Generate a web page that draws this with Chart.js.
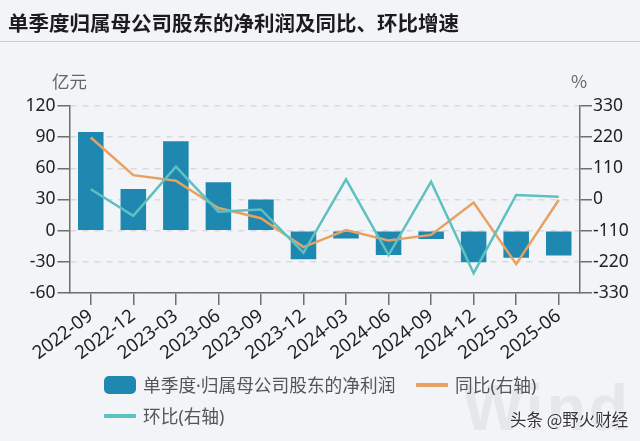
<!DOCTYPE html>
<html>
<head>
<meta charset="utf-8">
<script src="https://cdn.jsdelivr.net/npm/chart.js@4/dist/chart.umd.min.js"></script>
<style>
  html, body { margin: 0; padding: 0; background: #f2f4f8; }
  #wrap { position: relative; width: 640px; height: 441px; overflow: hidden; font-family: "Noto Sans CJK SC", sans-serif; }
  #title { position: absolute; left: 8px; top: 7px; font-size: 20.5px; font-weight: 700; color: #1c1c1c; line-height: 30px; white-space: nowrap; }
  #rule { position: absolute; left: 0; right: 0; top: 41px; height: 1px; background: #c9ccd2; }
  canvas { position: absolute; left: 0; top: 0; }
  .unit { position: absolute; top: 68px; font-size: 17.5px; line-height: 26px; color: #666; }
  .leg { position: absolute; font-family: "Noto Sans", "Noto Sans CJK SC", sans-serif; font-size: 17.7px; line-height: 24px; color: #555; white-space: nowrap; }
  .swatch { position: absolute; width: 32px; }
  #wind { position: absolute; left: 463px; top: 376px; font: 700 64px/64px "Liberation Sans", sans-serif; color: #e5e7eb; letter-spacing: 3px; }
  #mark { position: absolute; left: 510px; top: 407px; font-size: 16.5px; line-height: 24px; color: #333; white-space: nowrap; text-shadow: 0 0 2px #fff, 0 0 2px #fff; }
</style>
</head>
<body>
<div id="wrap">
  <canvas id="c" width="640" height="441"></canvas>
  <div id="title">单季度归属母公司股东的净利润及同比、环比增速</div>
  <div id="rule"></div>
  <div class="unit" style="left:52px">亿元</div>
  <div class="unit" style="left:571px">%</div>
  <div id="wind">Wind</div>
  <div id="legend"></div>
  <div id="mark">头条 @野火财经</div>
</div>
<script>
const categories = ["2022-09", "2022-12", "2023-03", "2023-06", "2023-09", "2023-12", "2024-03", "2024-06", "2024-09", "2024-12", "2025-03", "2025-06"];
const netProfit = [95, 40, 86, 46.5, 30, -27.5, -7.5, -23.5, -8, -30.5, -26, -24];
const yoy = [219, 86, 66, -30, -66, -168, -108, -145, -125, -11, -228, -2];
const qoq = [36, -58, 116, -43, -35, -188, 71, -196, 63, -260, 16, 10];
const leftTicks = [120, 90, 60, 30, 0, -30, -60];
const rightTicks = [330, 220, 110, 0, -110, -220, -330];

const BAR = "#1e88b0", ORANGE = "#e8a160", TEAL = "#5fc0c0";
const AXIS = "#6e6e6e", GRID = "#d8dade";
const tickFont = { family: "'Noto Sans', sans-serif", size: 17.5 };

Chart.defaults.animation = false;

new Chart(document.getElementById("c"), {
  data: {
    labels: categories,
    datasets: [
      { type: "line", label: "环比(右轴)", data: qoq, yAxisID: "yR", borderColor: TEAL, borderWidth: 2.5, pointRadius: 0, tension: 0, order: 1 },
      { type: "line", label: "同比(右轴)", data: yoy, yAxisID: "yR", borderColor: ORANGE, borderWidth: 2.5, pointRadius: 0, tension: 0, order: 2 },
      { type: "bar", label: "单季度·归属母公司股东的净利润", data: netProfit, yAxisID: "yL", backgroundColor: BAR, barPercentage: 0.6, categoryPercentage: 1, order: 3 }
    ]
  },
  options: {
    responsive: false,
    maintainAspectRatio: false,
    layout: { padding: { top: 106, left: 0, right: 0, bottom: 0 } },
    plugins: { legend: { display: false }, tooltip: { enabled: false }, title: { display: false } },
    scales: {
      x: {
        offset: true,
        afterFit: s => { s.height = 148; },
        border: { color: AXIS, width: 1.5 },
        grid: { drawOnChartArea: false, offset: false, color: AXIS, tickLength: 12, lineWidth: 1.5 },
        ticks: { color: "#222", font: { family: tickFont.family, size: 18.5 }, maxRotation: 37, minRotation: 37, autoSkip: false, padding: 0 }
      },
      yL: {
        position: "left",
        min: -60, max: 120,
        afterFit: s => { s.width = 69.5; },
        afterBuildTicks: s => { s.ticks = leftTicks.map(v => ({ value: v })); },
        border: { color: AXIS, width: 1.5, dash: [6, 6] },
        grid: { color: GRID, lineWidth: 1.5, tickLength: 12, tickColor: AXIS, tickBorderDash: [] },
        ticks: { color: "#222", font: tickFont, padding: 2 }
      },
      yR: {
        position: "right",
        min: -330, max: 330,
        afterFit: s => { s.width = 60; },
        afterBuildTicks: s => { s.ticks = rightTicks.map(v => ({ value: v })); },
        border: { color: AXIS, width: 1.5 },
        grid: { drawOnChartArea: false, color: AXIS, lineWidth: 1.5, tickLength: 12 },
        ticks: { color: "#222", font: tickFont, padding: 1 }
      }
    }
  }
});

// legend sits in two rows under the rotated labels
const legendItems = [
  { text: "单季度·归属母公司股东的净利润", color: BAR, x: 104, y: 385, box: true },
  { text: "同比(右轴)", color: ORANGE, x: 416, y: 385 },
  { text: "环比(右轴)", color: TEAL, x: 104, y: 416 }
];
document.getElementById("legend").innerHTML = legendItems.map(it => {
  const h = it.box ? 18 : 4;
  const r = it.box ? 5 : 1;
  return `<div class="swatch" style="left:${it.x}px;top:${it.y - h / 2}px;height:${h}px;background:${it.color};border-radius:${r}px"></div>` +
    `<div class="leg" style="left:${it.x + 39}px;top:${it.y - 12}px">${it.text}</div>`;
}).join("");
</script>
</body>
</html>
